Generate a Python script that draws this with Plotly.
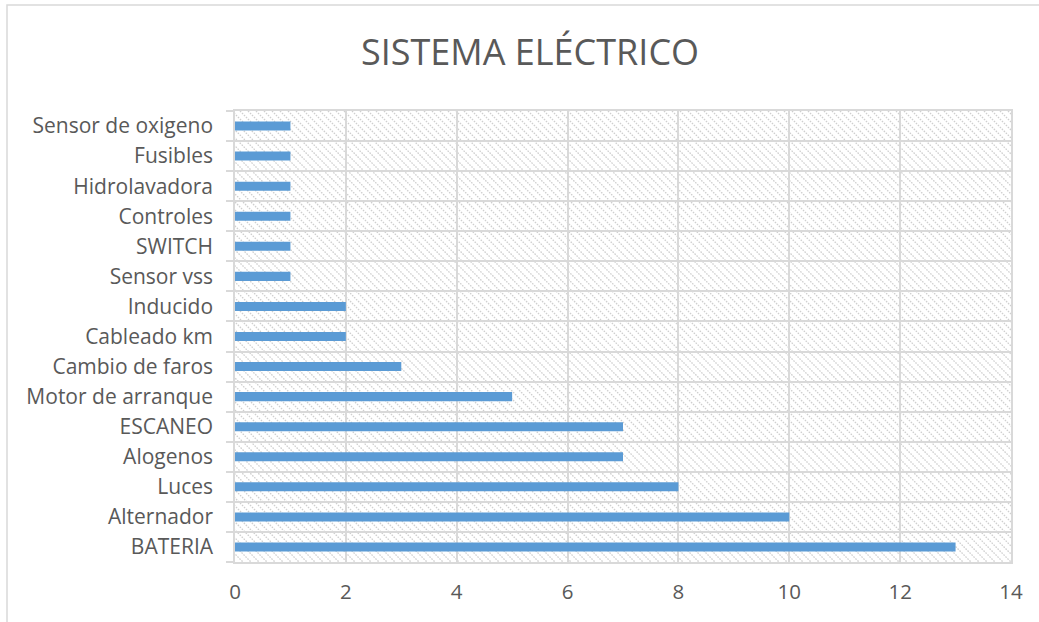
import base64
import plotly.graph_objects as go

categories = ["BATERIA", "Alternador", "Luces", "Alogenos", "ESCANEO", "Motor de arranque",
              "Cambio de faros", "Cableado km", "Inducido", "Sensor vss", "SWITCH",
              "Controles", "Hidrolavadora", "Fusibles", "Sensor de oxigeno"]
values = [13, 10, 8, 7, 7, 5, 3, 2, 2, 1, 1, 1, 1, 1, 1]
x_ticks = [0, 2, 4, 6, 8, 10, 12, 14]

W, H = 1039, 622
ML, MR, MT, MB = 235, 28, 111, 60
PW, PH = W - ML - MR, H - MT - MB

# hatch background (decorative pattern for plot area)
step = 8
lines = []
for k in range(-PH, PW + PH, step):
    lines.append(f'<line x1="{k}" y1="0" x2="{k + PH}" y2="{PH}"/>')
svg = (f'<svg xmlns="http://www.w3.org/2000/svg" width="{PW}" height="{PH}" '
       f'viewBox="0 0 {PW} {PH}" preserveAspectRatio="none">'
       f'<g stroke="#CFCFCF" stroke-width="1.3" stroke-dasharray="1.6,1.2">' + "".join(lines) + '</g></svg>')
src = "data:image/svg+xml;base64," + base64.b64encode(svg.encode()).decode()

fig = go.Figure()
fig.add_trace(go.Bar(
    y=categories, x=values, orientation="h", width=0.3,
    marker=dict(color="#5B9BD5", line=dict(width=0)),
    hoverinfo="x+y",
))

font_family = "'Open Sans', Lato, sans-serif"
fig.update_layout(
    width=W, height=H,
    margin=dict(l=ML, r=MR, t=MT, b=MB),
    paper_bgcolor="white", plot_bgcolor="rgba(0,0,0,0)",
    showlegend=False,
    title=dict(text="SISTEMA ELÉCTRICO", x=530 / W, xanchor="center", y=1 - 52 / H, yanchor="middle",
               font=dict(family=font_family, size=36, color="#595959")),
    font=dict(family=font_family, color="#595959"),
    images=[dict(source=src, xref="paper", yref="paper", x=0, y=1, sizex=1, sizey=1,
                 xanchor="left", yanchor="top", sizing="stretch", layer="below")],
    xaxis=dict(range=[0, 14], tickvals=x_ticks, showgrid=True, gridcolor="#D9D9D9", gridwidth=1.5,
               zeroline=False, showline=True, linecolor="#D9D9D9", linewidth=1.5, mirror=True,
               ticks="outside", ticklen=11, tickcolor="rgba(0,0,0,0)",
               tickfont=dict(size=20.5, color="#595959")),
    yaxis=dict(type="category", categoryorder="array", categoryarray=categories,
               tickson="boundaries", showgrid=True, gridcolor="#D9D9D9", gridwidth=1.5,
               showline=True, linecolor="#D9D9D9", linewidth=1.5, mirror=True,
               ticks="outside", ticklen=7, tickcolor="#D9D9D9", tickwidth=1.5,
               ticklabelstandoff=16,
               tickfont=dict(size=21, color="#595959")),
    shapes=[dict(type="rect", xref="paper", yref="paper",
                 x0=(7 - ML) / PW, x1=(1045 - ML) / PW,
                 y0=-(640 - MT - PH) / PH, y1=(H - MB - 5) / PH,
                 line=dict(color="#D9D9D9", width=1.5), fillcolor="rgba(0,0,0,0)", layer="below")],
)

fig.write_html("out.html")
